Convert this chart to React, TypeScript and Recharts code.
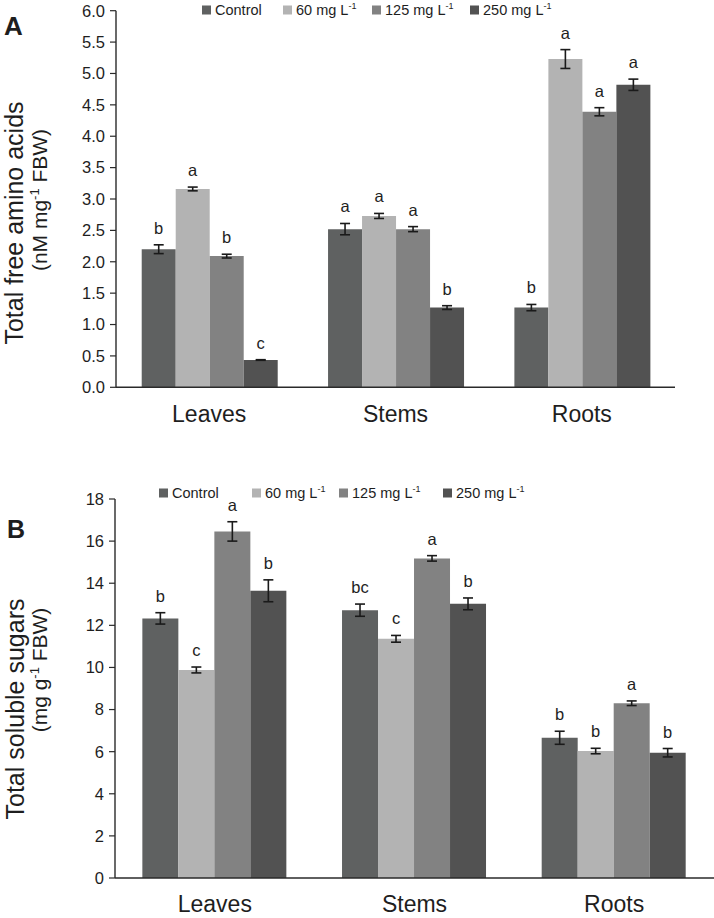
import React from 'react';
import { BarChart, Bar, XAxis, YAxis, ErrorBar, LabelList } from 'recharts';

const organs = ['Leaves', 'Stems', 'Roots'];
const seriesKeys = ['control', 'c60', 'c125', 'c250'];
const seriesNames = ['Control', '60 mg L', '125 mg L', '250 mg L'];
const seriesColors = ['#5f6161', '#b3b3b3', '#828282', '#525252'];

// A - total free amino acids (nM mg-1 FBW)
const aminoControl = [2.2, 2.52, 1.27];
const amino60 = [3.16, 2.73, 5.23];
const amino125 = [2.09, 2.52, 4.39];
const amino250 = [0.435, 1.27, 4.82];
const aminoControlErr = [0.07, 0.09, 0.05];
const amino60Err = [0.03, 0.04, 0.15];
const amino125Err = [0.03, 0.04, 0.065];
const amino250Err = [0.005, 0.03, 0.09];
const aminoControlSig = ['b', 'a', 'b'];
const amino60Sig = ['a', 'a', 'a'];
const amino125Sig = ['b', 'a', 'a'];
const amino250Sig = ['c', 'b', 'a'];
const aminoTicks = [0, 0.5, 1, 1.5, 2, 2.5, 3, 3.5, 4, 4.5, 5, 5.5, 6];

// B - total soluble sugars (mg g-1 FBW)
const sugarControl = [12.33, 12.72, 6.66];
const sugar60 = [9.88, 11.36, 6.03];
const sugar125 = [16.46, 15.18, 8.3];
const sugar250 = [13.64, 13.02, 5.95];
const sugarControlErr = [0.27, 0.29, 0.31];
const sugar60Err = [0.14, 0.16, 0.13];
const sugar125Err = [0.46, 0.13, 0.11];
const sugar250Err = [0.52, 0.28, 0.2];
const sugarControlSig = ['b', 'bc', 'b'];
const sugar60Sig = ['c', 'c', 'b'];
const sugar125Sig = ['a', 'a', 'a'];
const sugar250Sig = ['b', 'b', 'b'];
const sugarTicks = [0, 2, 4, 6, 8, 10, 12, 14, 16, 18];

const FONT = '"Liberation Sans", Arial, Helvetica, sans-serif';
const INK = '#1e1e1e';

const buildRows = (vals: number[][], errs: number[][], sigs: string[][]) =>
  organs.map((name, i) => {
    const row: any = { name };
    seriesKeys.forEach((k, j) => {
      row[k] = vals[j][i];
      row[k + 'Err'] = errs[j][i];
      row[k + 'Sig'] = sigs[j][i];
    });
    return row;
  });

const aminoData = buildRows(
  [aminoControl, amino60, amino125, amino250],
  [aminoControlErr, amino60Err, amino125Err, amino250Err],
  [aminoControlSig, amino60Sig, amino125Sig, amino250Sig]
);
const sugarData = buildRows(
  [sugarControl, sugar60, sugar125, sugar250],
  [sugarControlErr, sugar60Err, sugar125Err, sugar250Err],
  [sugarControlSig, sugar60Sig, sugar125Sig, sugar250Sig]
);

// letter sits a little above the error bar cap
const sigLabel = (rows: any[], key: string) => (props: any) => {
  const vb = props.viewBox || props;
  const { x, y, width, height } = vb;
  const row = rows[props.index];
  if (!row || x == null) return null;
  const pxPerUnit = height / row[key];
  const top = y - row[key + 'Err'] * pxPerUnit;
  return (
    <text x={x + width / 2} y={top - 11} textAnchor="middle" fontSize={16.5} fontFamily={FONT} fill={INK}>
      {props.value}
    </text>
  );
};

const Panel = ({ data, ticks, domain, fmt, width, height, margin, axisWidth, gap }: any) => (
  <BarChart width={width} height={height} data={data} margin={margin} barGap={0} barCategoryGap={gap}>
    <XAxis
      dataKey="name"
      axisLine={{ stroke: '#2a2a2a', strokeWidth: 1.4 }}
      tickLine={false}
      tickMargin={12}
      height={40}
      tick={{ fontSize: 23, fill: INK, fontFamily: FONT }}
    />
    <YAxis
      type="number"
      domain={domain}
      ticks={ticks}
      interval={0}
      width={axisWidth}
      tickFormatter={fmt}
      tickSize={6}
      tickMargin={5}
      axisLine={{ stroke: '#2a2a2a', strokeWidth: 1.4 }}
      tickLine={{ stroke: '#2a2a2a', strokeWidth: 1.2 }}
      tick={{ fontSize: 16.5, fill: INK, fontFamily: FONT }}
    />
    {seriesKeys.map((k, j) => (
      <Bar key={k} dataKey={k} fill={seriesColors[j]} isAnimationActive={false}>
        <ErrorBar dataKey={k + 'Err'} width={5} stroke="#1a1a1a" strokeWidth={1.6} direction="y" isAnimationActive={false} />
        <LabelList dataKey={k + 'Sig'} content={sigLabel(data, k)} />
      </Bar>
    ))}
  </BarChart>
);

const LegendRow = ({ xs, y }: { xs: number[]; y: number }) => (
  <g fontFamily={FONT} fill={INK}>
    {seriesNames.map((n, j) => (
      <g key={n}>
        <rect x={xs[j]} y={y - 9.5} width={9} height={9} fill={seriesColors[j]} />
        <text x={xs[j] + 13} y={y} fontSize={14.5}>
          {n}
          {j > 0 && (
            <tspan fontSize={9} dy={-6}>
              -1
            </tspan>
          )}
        </text>
      </g>
    ))}
  </g>
);

export default function App() {
  return (
    <div style={{ position: 'absolute', left: 0, top: 0, width: 714, height: 918, background: '#fff' }}>
      <div style={{ position: 'absolute', left: 0, top: 0 }}>
        <Panel
          data={aminoData}
          ticks={aminoTicks}
          domain={[0, 6]}
          fmt={(v: number) => v.toFixed(1)}
          width={714}
          height={440}
          margin={{ top: 10.7, right: 39, left: 0, bottom: 12.7 }}
          axisWidth={116}
          gap="13.8%"
        />
      </div>
      <div style={{ position: 'absolute', left: 0, top: 460 }}>
        <Panel
          data={sugarData}
          ticks={sugarTicks}
          domain={[0, 18]}
          fmt={(v: number) => String(v)}
          width={714}
          height={458}
          margin={{ top: 39, right: 0, left: 0, bottom: 0 }}
          axisWidth={115}
          gap="13.7%"
        />
      </div>
      <svg width={714} height={918} style={{ position: 'absolute', left: 0, top: 0, pointerEvents: 'none' }}>
        <text x={4} y={35} fontSize={26} fontWeight="bold" fontFamily={FONT} fill={INK}>A</text>
        <text x={7} y={538} fontSize={25} fontWeight="bold" fontFamily={FONT} fill={INK}>B</text>
        <LegendRow xs={[202, 283, 372, 470]} y={15} />
        <LegendRow xs={[159, 252, 339, 443]} y={498} />
        <text transform="translate(23,223) rotate(-90)" textAnchor="middle" fontSize={25} fontFamily={FONT} fill={INK}>
          Total free amino acids
        </text>
        <text transform="translate(47,200) rotate(-90)" textAnchor="middle" fontSize={21} fontFamily={FONT} fill={INK}>
          (nM mg<tspan fontSize={13} dy={-8}>-1</tspan>
          <tspan dy={8}> FBW)</tspan>
        </text>
        <text transform="translate(24,709) rotate(-90)" textAnchor="middle" fontSize={25} fontFamily={FONT} fill={INK}>
          Total soluble sugars
        </text>
        <text transform="translate(47,670) rotate(-90)" textAnchor="middle" fontSize={21} fontFamily={FONT} fill={INK}>
          (mg g<tspan fontSize={13} dy={-8}>-1</tspan>
          <tspan dy={8}> FBW)</tspan>
        </text>
      </svg>
    </div>
  );
}
